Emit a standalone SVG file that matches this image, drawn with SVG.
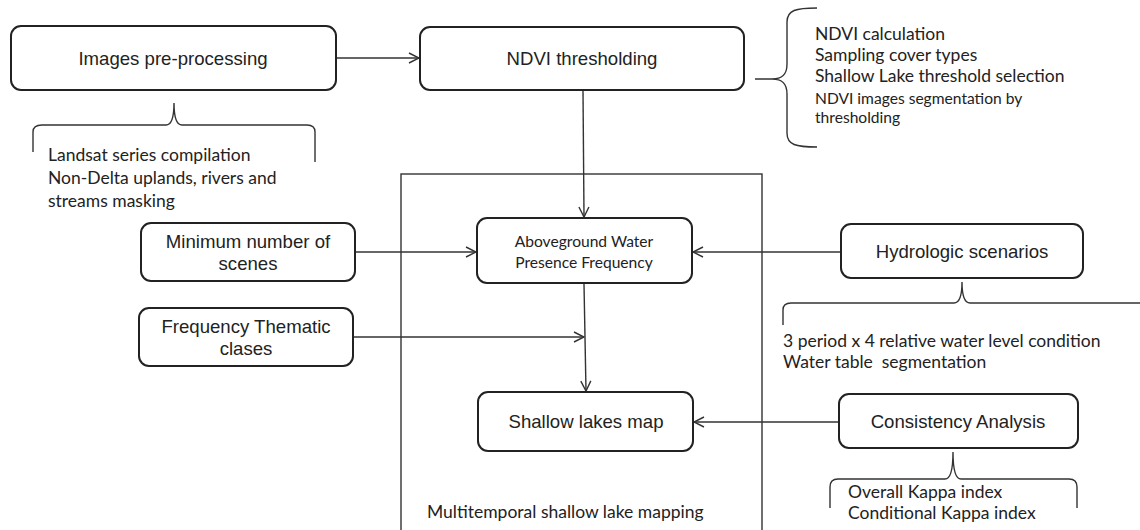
<svg xmlns="http://www.w3.org/2000/svg" width="1140" height="530" viewBox="0 0 1140 530">
<defs>
<style>
.box{fill:#fff;stroke:#222;stroke-width:2}
.lbl{font-family:"Liberation Sans",Arial,sans-serif;font-size:18.6px;fill:#222;text-anchor:middle}
.ann{font-family:Lato,"Open Sans",sans-serif;font-size:17.5px;fill:#222}
.sm{font-size:15.6px}
.ln{fill:none;stroke:#333;stroke-width:1.4}
.br{fill:none;stroke:#333;stroke-width:1.4}
</style>
<marker id="ah" viewBox="0 0 12 12" refX="11" refY="6" markerWidth="12" markerHeight="12" markerUnits="userSpaceOnUse" orient="auto">
<path d="M1,1 L11,6 L1,11" fill="none" stroke="#333" stroke-width="1.4"/>
</marker>
</defs>
<rect width="1140" height="530" fill="#fff"/>

<g id="frame">
<rect x="401" y="174" width="361" height="400" fill="none" stroke="#333" stroke-width="1.4"/>
<text class="ann" x="427" y="518">Multitemporal shallow lake mapping</text>
</g>

<g id="connectors">
<line class="ln" x1="337" y1="58" x2="419" y2="58" marker-end="url(#ah)"/>
<line class="ln" x1="583" y1="91" x2="584" y2="217" marker-end="url(#ah)"/>
<line class="ln" x1="356" y1="252" x2="476" y2="252" marker-end="url(#ah)"/>
<line class="ln" x1="840" y1="252" x2="693" y2="252" marker-end="url(#ah)"/>
<line class="ln" x1="354" y1="337" x2="584" y2="337" marker-end="url(#ah)"/>
<line class="ln" x1="584" y1="284" x2="586" y2="391" marker-end="url(#ah)"/>
<line class="ln" x1="838" y1="422" x2="694" y2="422" marker-end="url(#ah)"/>
</g>

<g id="images-preprocessing">
<rect class="box" x="11" y="26" width="325" height="64" rx="10"/>
<text class="lbl" x="173" y="65">Images pre-processing</text>
</g>
<g id="images-preprocessing-notes">
<path class="br" d="M33,152 L33,132 Q33,125 42,125 L166,125 Q174,125 174,103 Q174,125 182,125 L307,125 Q315,125 315,132 L315,162"/>
<text class="ann" x="48" y="161">Landsat series compilation</text>
<text class="ann" x="48" y="184">Non-Delta uplands, rivers and</text>
<text class="ann" x="48" y="207">streams masking</text>
</g>

<g id="ndvi-thresholding">
<rect class="box" x="420" y="27" width="324" height="63" rx="10"/>
<text class="lbl" x="582" y="65">NDVI thresholding</text>
</g>
<g id="ndvi-notes">
<path class="br" d="M817,8 C796,8 787,10 787,22 L787,64 C787,75 782,79 772,79 L755,79 M772,79 C782,79 787,83 787,94 L787,133 C787,145 796,147 817,147"/>
<text class="ann" x="815" y="40">NDVI calculation</text>
<text class="ann" x="815" y="61">Sampling cover types</text>
<text class="ann" x="815" y="82">Shallow Lake threshold selection</text>
<text class="ann sm" x="815" y="104">NDVI images segmentation by</text>
<text class="ann sm" x="815" y="123">thresholding</text>
</g>

<g id="minimum-scenes">
<rect class="box" x="141" y="223" width="214" height="58" rx="10"/>
<text class="lbl" x="248" y="248">Minimum number of</text>
<text class="lbl" x="248" y="270">scenes</text>
</g>

<g id="frequency-classes">
<rect class="box" x="139" y="308" width="214" height="58" rx="10"/>
<text class="lbl" x="246" y="333">Frequency Thematic</text>
<text class="lbl" x="246" y="355">clases</text>
</g>

<g id="aboveground-water">
<rect class="box" x="477" y="218" width="215" height="65" rx="10"/>
<text class="ann sm" x="584" y="247" text-anchor="middle">Aboveground Water</text>
<text class="ann sm" x="584" y="268" text-anchor="middle">Presence Frequency</text>
</g>

<g id="hydrologic-scenarios">
<rect class="box" x="841" y="224" width="242" height="54" rx="10"/>
<text class="lbl" x="962" y="258">Hydrologic scenarios</text>
</g>
<g id="hydrologic-notes">
<path class="br" d="M783,325 L783,310 Q783,303 791,303 L954,303 Q962,303 962,282 Q962,303 970,303 L1145,303"/>
<text class="ann" x="783" y="347">3 period x 4 relative water level condition</text>
<text class="ann" x="783" y="368" xml:space="preserve">Water table  segmentation</text>
</g>

<g id="shallow-lakes-map">
<rect class="box" x="478" y="392" width="215" height="59" rx="10"/>
<text class="lbl" x="586" y="428">Shallow lakes map</text>
</g>

<g id="consistency-analysis">
<rect class="box" x="839" y="394" width="239" height="54" rx="10"/>
<text class="lbl" x="958" y="428">Consistency Analysis</text>
</g>
<g id="consistency-notes">
<path class="br" d="M830,508 L830,487 Q830,479 838,479 L945,479 Q953,479 953,452 Q953,479 961,479 L1069,479 Q1077,479 1077,487 L1077,508"/>
<text class="ann" x="848" y="498">Overall Kappa index</text>
<text class="ann" x="848" y="519">Conditional Kappa index</text>
</g>
</svg>
